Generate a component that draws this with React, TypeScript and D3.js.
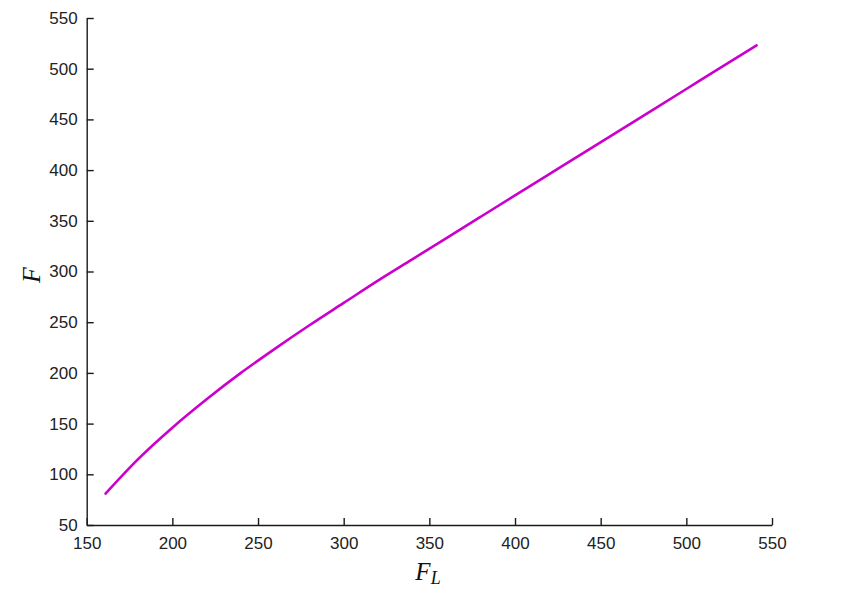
import React, { useRef, useEffect } from 'react';
import * as d3 from 'd3';

// values
const fl = [161, 180, 200, 220, 240, 260, 280, 300, 320, 340, 360, 380, 400, 420, 440, 460, 480, 500, 520, 541];
const f = [81, 115, 146, 174, 200, 224, 247, 269, 291, 312, 333, 354, 375, 396, 417, 438, 459, 480, 501, 523];
const xTicks = [150, 200, 250, 300, 350, 400, 450, 500, 550];
const yTicks = [50, 100, 150, 200, 250, 300, 350, 400, 450, 500, 550];

function App() {
  const svgRef = useRef<SVGSVGElement>(null);

  useEffect(() => {
    const svg = d3.select(svgRef.current);
    svg.selectAll('*').remove();

    const w = 849;
    const h = 603;
    const left = 86.7, right = 772, top = 18, bottom = 525;

    svg.attr('width', w).attr('height', h);

    const x = d3.scaleLinear().domain([150, 550]).range([left, right]);
    const y = d3.scaleLinear().domain([50, 550]).range([bottom, top]);

    // x axis
    const gx = svg.append('g')
      .attr('transform', `translate(0,${bottom})`)
      .call(d3.axisBottom(x).tickValues(xTicks).tickFormat(d3.format('d'))
        .tickSizeInner(-7).tickSizeOuter(0).tickPadding(12));

    // y axis
    const gy = svg.append('g')
      .attr('transform', `translate(${left},0)`)
      .call(d3.axisLeft(y).tickValues(yTicks).tickFormat(d3.format('d'))
        .tickSizeInner(-7).tickSizeOuter(0).tickPadding(9));

    [gx, gy].forEach(g => {
      g.select('.domain').attr('stroke', '#1a1a1a').attr('stroke-width', 1.4);
      g.selectAll('.tick line').attr('stroke', '#1a1a1a').attr('stroke-width', 1.4);
      g.selectAll('.tick text')
        .attr('fill', '#222')
        .style('font-family', 'Arial, "Liberation Sans", sans-serif')
        .style('font-size', '17px');
    });

    // curve
    const pts = fl.map((v, i) => [v, f[i]] as [number, number]);
    const line = d3.line<[number, number]>()
      .x(d => x(d[0]))
      .y(d => y(d[1]))
      .curve(d3.curveMonotoneX);

    svg.append('path')
      .datum(pts)
      .attr('d', line)
      .attr('fill', 'none')
      .attr('stroke', '#cc00cc')
      .attr('stroke-width', 2.6)
      .attr('stroke-linecap', 'round');

    // axis labels
    const xl = svg.append('text')
      .attr('x', 428)
      .attr('y', 580)
      .attr('text-anchor', 'middle')
      .style('font-family', '"Liberation Serif", "Times New Roman", serif')
      .style('font-style', 'italic')
      .style('font-size', '25px')
      .attr('fill', '#111');
    xl.append('tspan').text('F');
    xl.append('tspan').attr('dy', 4).style('font-size', '18px').text('L');

    svg.append('text')
      .attr('transform', 'translate(40,275) rotate(-90)')
      .attr('text-anchor', 'middle')
      .style('font-family', '"Liberation Serif", "Times New Roman", serif')
      .style('font-style', 'italic')
      .style('font-size', '26px')
      .attr('fill', '#111')
      .text('F');
  }, []);

  return (
    <div style={{ position: 'fixed', left: 0, top: 0, background: '#fff' }}>
      <svg ref={svgRef} style={{ display: 'block' }}></svg>
    </div>
  );
}

export default App;
